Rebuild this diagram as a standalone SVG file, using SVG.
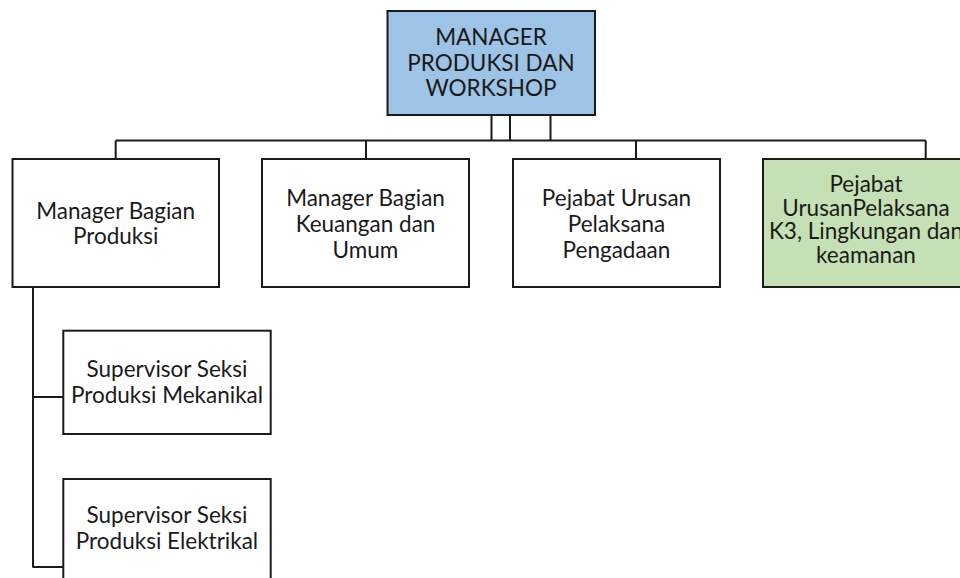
<svg xmlns="http://www.w3.org/2000/svg" width="960" height="578" viewBox="0 0 960 578">
<style>
.box{fill:#ffffff;stroke:#1a1a1a;stroke-width:2}
.blue{fill:#9dc3e6}
.green{fill:#c5e0b4}
.t{font-family:Lato,"Liberation Sans",sans-serif;font-size:22.5px;fill:#1a1a1a;text-anchor:middle}
.c{fill:none;stroke:#1a1a1a;stroke-width:2}
</style>
<rect width="960" height="578" fill="#ffffff"/>
<g id="connectors">
<path class="c" d="M491.5,115V140.5M510,115V140.5M550.5,115V140.5"/>
<path class="c" d="M115.7,140.5H925.7"/>
<path class="c" d="M115.7,140.5V159M366,140.5V159M636,140.5V159M925.7,140.5V159"/>
<path class="c" d="M33,287V567.5M33,397H63.3M33,567H63.3"/>
</g>
<g id="manager-produksi-workshop">
<rect class="box blue" x="387.5" y="11" width="207.5" height="104"/>
<text class="t" x="491" y="45">MANAGER</text>
<text class="t" x="491" y="70.5">PRODUKSI DAN</text>
<text class="t" x="491" y="96">WORKSHOP</text>
</g>
<g id="manager-bagian-produksi">
<rect class="box" x="12.5" y="159" width="206.5" height="128"/>
<text class="t" x="115.7" y="219.3">Manager Bagian</text>
<text class="t" x="115.7" y="243.5">Produksi</text>
</g>
<g id="manager-bagian-keuangan">
<rect class="box" x="262" y="159" width="207" height="128"/>
<text class="t" x="365.5" y="206">Manager Bagian</text>
<text class="t" x="365.5" y="232">Keuangan dan</text>
<text class="t" x="365.5" y="258">Umum</text>
</g>
<g id="pejabat-pengadaan">
<rect class="box" x="513" y="159" width="207" height="128"/>
<text class="t" x="616.5" y="206">Pejabat Urusan</text>
<text class="t" x="616.5" y="232">Pelaksana</text>
<text class="t" x="616.5" y="258">Pengadaan</text>
</g>
<g id="pejabat-k3">
<rect class="box green" x="763" y="159" width="210" height="128"/>
<text class="t" x="866" y="191.7">Pejabat</text>
<text class="t" x="866" y="215.5">UrusanPelaksana</text>
<text class="t" x="866" y="239.3">K3, Lingkungan dan</text>
<text class="t" x="866" y="263.3">keamanan</text>
</g>
<g id="supervisor-mekanikal">
<rect class="box" x="63.3" y="330.7" width="207.4" height="103.3"/>
<text class="t" x="167" y="377.3">Supervisor Seksi</text>
<text class="t" x="167" y="403.3">Produksi Mekanikal</text>
</g>
<g id="supervisor-elektrikal">
<rect class="box" x="63.3" y="479" width="207.4" height="120"/>
<text class="t" x="167" y="522.7">Supervisor Seksi</text>
<text class="t" x="167" y="549.3">Produksi Elektrikal</text>
</g>
</svg>
